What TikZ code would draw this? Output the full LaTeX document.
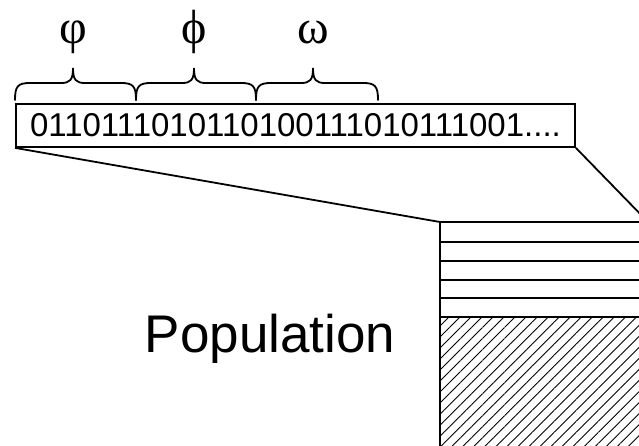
\documentclass[tikz,border=0pt]{standalone}
\usepackage{fontspec}
\setmainfont{Liberation Sans}
\newfontfamily\greekfont{Liberation Serif}
\usetikzlibrary{patterns.meta}
\begin{document}
\begin{tikzpicture}[x=1pt,y=-1pt,
  lw/.style={line width=1.8pt},
  bracepath/.style={line width=1.8pt, line cap=round},
  greek/.style={font=\greekfont\fontsize{48}{52}\selectfont, anchor=base, inner sep=0pt},
  rowline/.style={line width=1.8pt}]
\useasboundingbox (0,0) rectangle (639,446);
\clip (0,0) rectangle (639,446);
% chromosome box
\node[draw, lw, minimum width=559pt, minimum height=43pt, inner sep=0pt,
      font=\fontsize{33}{38}\selectfont] (chrom) at (295.5,125.5) {0110111010110100111010111001....};
% greek labels
\node[greek] (g1) at (73,44) {φ};
\node[greek] (g2) at (194,44) {ϕ};
\node[greek] (g3) at (313,44) {ω};
% braces
\foreach \xa/\tp/\xb [count=\i] in {15/73/136, 136/194/256, 256/313/378}{
  \draw[bracepath] (\xa,100) .. controls (\xa,86) and (\xa+3,83) .. (\xa+15,83)
     -- (\tp-12,83) .. controls (\tp-3,83) and (\tp,80) .. (\tp,68)
     .. controls (\tp,80) and (\tp+3,83) .. (\tp+12,83)
     -- (\xb-15,83) .. controls (\xb-3,83) and (\xb,86) .. (\xb,100);
}
% population block
\coordinate (ptl) at (440,222);
\coordinate (ptr) at (648,222);
\coordinate (pbl) at (440,460);
\coordinate (pbr) at (660,460);
\path[pattern={Lines[angle=45,distance=7.8pt,line width=0.9pt]}] (440,317) rectangle (pbr);
\draw[lw] (pbl) -- (ptl) -- (ptr);
\foreach \yy in {242,261,280,298,317}{
  \draw[rowline] (440,\yy) -- (660,\yy);
}
% connectors
\draw[lw] (chrom.south west) -- (ptl);
\draw[lw] (chrom.south east) -- (ptr);
% label
\node[font=\fontsize{53}{59}\selectfont, anchor=base, inner sep=0pt] (pop) at (270,352) {Population};
\end{tikzpicture}
\end{document}
